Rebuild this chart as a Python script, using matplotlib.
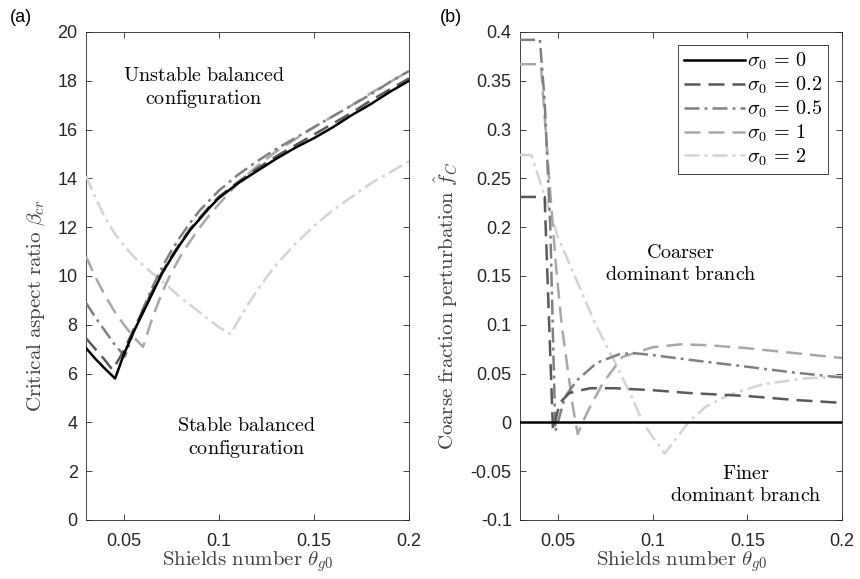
import numpy as np
import matplotlib
matplotlib.use('Agg')
import matplotlib.pyplot as plt

plt.rcParams['mathtext.fontset'] = 'cm'
plt.rcParams['font.family'] = ['Liberation Sans', 'DejaVu Sans']

# ---- panel (a): critical aspect ratio vs Shields number ----
xa_0 = [0.03, 0.035, 0.04, 0.0453, 0.05, 0.055, 0.06, 0.065, 0.07, 0.075, 0.08, 0.085, 0.09,
        0.095, 0.1, 0.11, 0.12, 0.13, 0.14, 0.15, 0.16, 0.17, 0.18, 0.19, 0.2]
ya_0 = [7.05, 6.6, 6.2, 5.8, 6.8, 7.7, 8.5, 9.3, 10.1, 10.75, 11.35, 11.9, 12.35,
        12.8, 13.2, 13.8, 14.3, 14.8, 15.25, 15.65, 16.1, 16.6, 17.05, 17.55, 18.0]

xa_02 = [0.03, 0.035, 0.04, 0.044, 0.05, 0.055, 0.06, 0.065, 0.07, 0.075, 0.08, 0.085, 0.09,
         0.095, 0.1, 0.11, 0.12, 0.13, 0.14, 0.15, 0.16, 0.17, 0.18, 0.19, 0.2]
ya_02 = [7.45, 7.0, 6.55, 6.15, 6.95, 7.8, 8.6, 9.4, 10.15, 10.8, 11.4, 11.95, 12.4,
         12.85, 13.25, 13.85, 14.4, 14.9, 15.35, 15.8, 16.25, 16.7, 17.2, 17.65, 18.1]

xa_05 = [0.03, 0.035, 0.04, 0.045, 0.0505, 0.055, 0.06, 0.065, 0.07, 0.075, 0.08, 0.085, 0.09,
         0.095, 0.1, 0.11, 0.12, 0.13, 0.14, 0.15, 0.16, 0.17, 0.18, 0.19, 0.2]
ya_05 = [8.9, 8.3, 7.75, 7.2, 6.7, 7.7, 8.65, 9.55, 10.35, 11.05, 11.65, 12.2, 12.7,
         13.1, 13.5, 14.15, 14.7, 15.2, 15.65, 16.1, 16.55, 17.0, 17.45, 17.95, 18.4]

xa_1 = [0.03, 0.035, 0.04, 0.045, 0.05, 0.055, 0.06, 0.065, 0.0705, 0.075, 0.08, 0.085, 0.09,
        0.095, 0.1, 0.11, 0.12, 0.13, 0.14, 0.15, 0.16, 0.17, 0.18, 0.19, 0.2]
ya_1 = [10.8, 9.95, 9.2, 8.55, 8.0, 7.5, 7.1, 8.3, 9.4, 10.15, 10.85, 11.45, 12.0,
        12.5, 12.95, 13.8, 14.5, 15.1, 15.6, 16.1, 16.55, 17.0, 17.5, 17.95, 18.4]

xa_2 = [0.03, 0.035, 0.04, 0.045, 0.05, 0.055, 0.06, 0.065, 0.07, 0.075, 0.08, 0.085, 0.09,
        0.095, 0.1, 0.106, 0.11, 0.115, 0.12, 0.125, 0.13, 0.14, 0.15, 0.16, 0.17, 0.18,
        0.19, 0.2]
ya_2 = [14.1, 13.2, 12.4, 11.75, 11.25, 10.8, 10.45, 10.1, 9.8, 9.45, 9.1, 8.8, 8.5,
        8.2, 7.9, 7.62, 8.15, 8.8, 9.4, 9.95, 10.45, 11.3, 12.05, 12.7, 13.25, 13.8,
        14.25, 14.7]

# ---- panel (b): coarse fraction perturbation ----
xb_0 = [0.03, 0.2]
yb_0 = [0.0, 0.0]

xb_02 = [0.03, 0.043, 0.0474, 0.051, 0.056, 0.06, 0.067, 0.08, 0.1, 0.12, 0.15, 0.175, 0.2]
yb_02 = [0.231, 0.231, -0.008, 0.02, 0.030, 0.032, 0.035, 0.035, 0.033, 0.030, 0.027, 0.023, 0.020]

xb_05 = [0.03, 0.0405, 0.043, 0.046, 0.0475, 0.0487, 0.0537, 0.06, 0.0705, 0.0826, 0.09,
         0.1, 0.12, 0.15, 0.175, 0.2]
yb_05 = [0.392, 0.392, 0.33, 0.2, 0.08, -0.009, 0.026, 0.043, 0.061, 0.070, 0.071,
         0.069, 0.064, 0.057, 0.051, 0.046]

xb_1 = [0.03, 0.041, 0.045, 0.049, 0.052, 0.055, 0.058, 0.0605, 0.063, 0.067, 0.0737, 0.084,
        0.1, 0.115, 0.13, 0.15, 0.175, 0.2]
yb_1 = [0.367, 0.367, 0.26, 0.16, 0.10, 0.057, 0.015, -0.012, 0.0, 0.016, 0.040, 0.067,
        0.077, 0.080, 0.079, 0.076, 0.071, 0.066]

xb_2 = [0.03, 0.036, 0.04, 0.045, 0.05, 0.06, 0.07, 0.08, 0.09, 0.0947, 0.1063, 0.119,
        0.128, 0.14, 0.158, 0.18, 0.2]
yb_2 = [0.274, 0.274, 0.25, 0.22, 0.19, 0.145, 0.10, 0.062, 0.022, 0.0, -0.032, 0.0,
        0.016, 0.028, 0.039, 0.045, 0.047]

labels = [r'$\sigma_0 \,=\, 0$', r'$\sigma_0 \,=\, 0.2$', r'$\sigma_0 \,=\, 0.5$',
          r'$\sigma_0 \,=\, 1$', r'$\sigma_0 \,=\, 2$']
colors = ['black', '#595959', '#808080', '#a8a8a8', '#d4d4d4']
styles = [(), (6.4, 3.2), (6, 2, 1.2, 2), (6.4, 3.2), (6, 2, 1.2, 2)]

xticks = [0.05, 0.1, 0.15, 0.2]
xticklabels = ['0.05', '0.1', '0.15', '0.2']
yticks_b = [-0.1, -0.05, 0, 0.05, 0.1, 0.15, 0.2, 0.25, 0.3, 0.35, 0.4]
yticklabels_b = ['-0.1', '-0.05', '0', '0.05', '0.1', '0.15', '0.2', '0.25', '0.3', '0.35', '0.4']

fig = plt.figure(figsize=(8.6, 5.79), dpi=100)
ax1 = fig.add_axes([86/860, 59/579, 323/860, 488/579])
ax2 = fig.add_axes([520/860, 59/579, 322/860, 488/579])

LW = 1.8
axcol = '#262626'
labcol = '#404040'


def style_axes(ax):
    for s in ax.spines.values():
        s.set_color(axcol)
        s.set_linewidth(0.6)
    ax.tick_params(direction='in', length=4, width=0.6, color=axcol,
                   top=True, right=True, labelsize=13, labelcolor=axcol)
    ax.tick_params(axis='x', pad=9)
    ax.tick_params(axis='y', pad=6)
    ax.set_xlim(0.03, 0.2)
    ax.set_xticks(xticks)
    ax.set_xticklabels(xticklabels)
    ax.set_xlabel(r'$\mathrm{Shields\ number}\ \theta_{g0}$', fontsize=15, color=labcol, labelpad=0)


xa = [xa_0, xa_02, xa_05, xa_1, xa_2]
ya = [ya_0, ya_02, ya_05, ya_1, ya_2]
xb = [xb_0, xb_02, xb_05, xb_1, xb_2]
yb = [yb_0, yb_02, yb_05, yb_1, yb_2]

# draw light curves first so darker ones sit on top
for i in [4, 3, 2, 1, 0]:
    ax1.plot(xa[i], ya[i], color=colors[i], lw=LW, dashes=styles[i], zorder=3 + (4 - i))

handles = [None] * 5
for i in [4, 3, 2, 1, 0]:
    handles[i], = ax2.plot(xb[i], yb[i], color=colors[i], lw=LW, dashes=styles[i],
                           zorder=3 + (4 - i), label=labels[i])

style_axes(ax1)
ax1.set_ylim(0, 20)
ax1.set_yticks(range(0, 21, 2))
ax1.set_ylabel(r'$\mathrm{Critical\ aspect\ ratio}\ \beta_{cr}$', fontsize=15, color=labcol)
ax1.yaxis.set_label_coords(-0.12, 0.44)

style_axes(ax2)
ax2.set_ylim(-0.1, 0.4)
ax2.set_yticks(yticks_b)
ax2.set_yticklabels(yticklabels_b)
ax2.set_ylabel(r'$\mathrm{Coarse\ fraction\ perturbation}\ \hat{f}_C$', fontsize=15, color=labcol)
ax2.yaxis.set_label_coords(-0.186, 0.44)

ax1.text(0.092, 17.7, r'$\mathrm{Unstable\ balanced}$' + '\n' + r'$\mathrm{configuration}$',
         ha='center', va='center', fontsize=14.5, linespacing=1.2)
ax1.text(0.1147, 3.35, r'$\mathrm{Stable\ balanced}$' + '\n' + r'$\mathrm{configuration}$',
         ha='center', va='center', fontsize=14.5, linespacing=1.2)
ax2.text(0.1147, 0.163, r'$\mathrm{Coarser}$' + '\n' + r'$\mathrm{dominant\ branch}$',
         ha='center', va='center', fontsize=14.5, linespacing=1.2)
ax2.text(0.1494, -0.064, r'$\mathrm{Finer}$' + '\n' + r'$\mathrm{dominant\ branch}$',
         ha='center', va='center', fontsize=14.5, linespacing=1.2)

leg = ax2.legend(handles=handles, loc='upper right',
                 bbox_to_anchor=((828 - 520) / 322, (520 - 45) / 488),
                 borderaxespad=0, fontsize=14.5, handlelength=3.0, handletextpad=0.1,
                 labelspacing=0.12, fancybox=False, framealpha=1, borderpad=0.3)
leg.get_frame().set_edgecolor(axcol)
leg.get_frame().set_linewidth(0.6)

fig.text(10/860, 1 - 18/579, '(a)', fontsize=13, va='center', ha='left')
fig.text(440/860, 1 - 18/579, '(b)', fontsize=13, va='center', ha='left')

fig.savefig('out.png', dpi=100)
